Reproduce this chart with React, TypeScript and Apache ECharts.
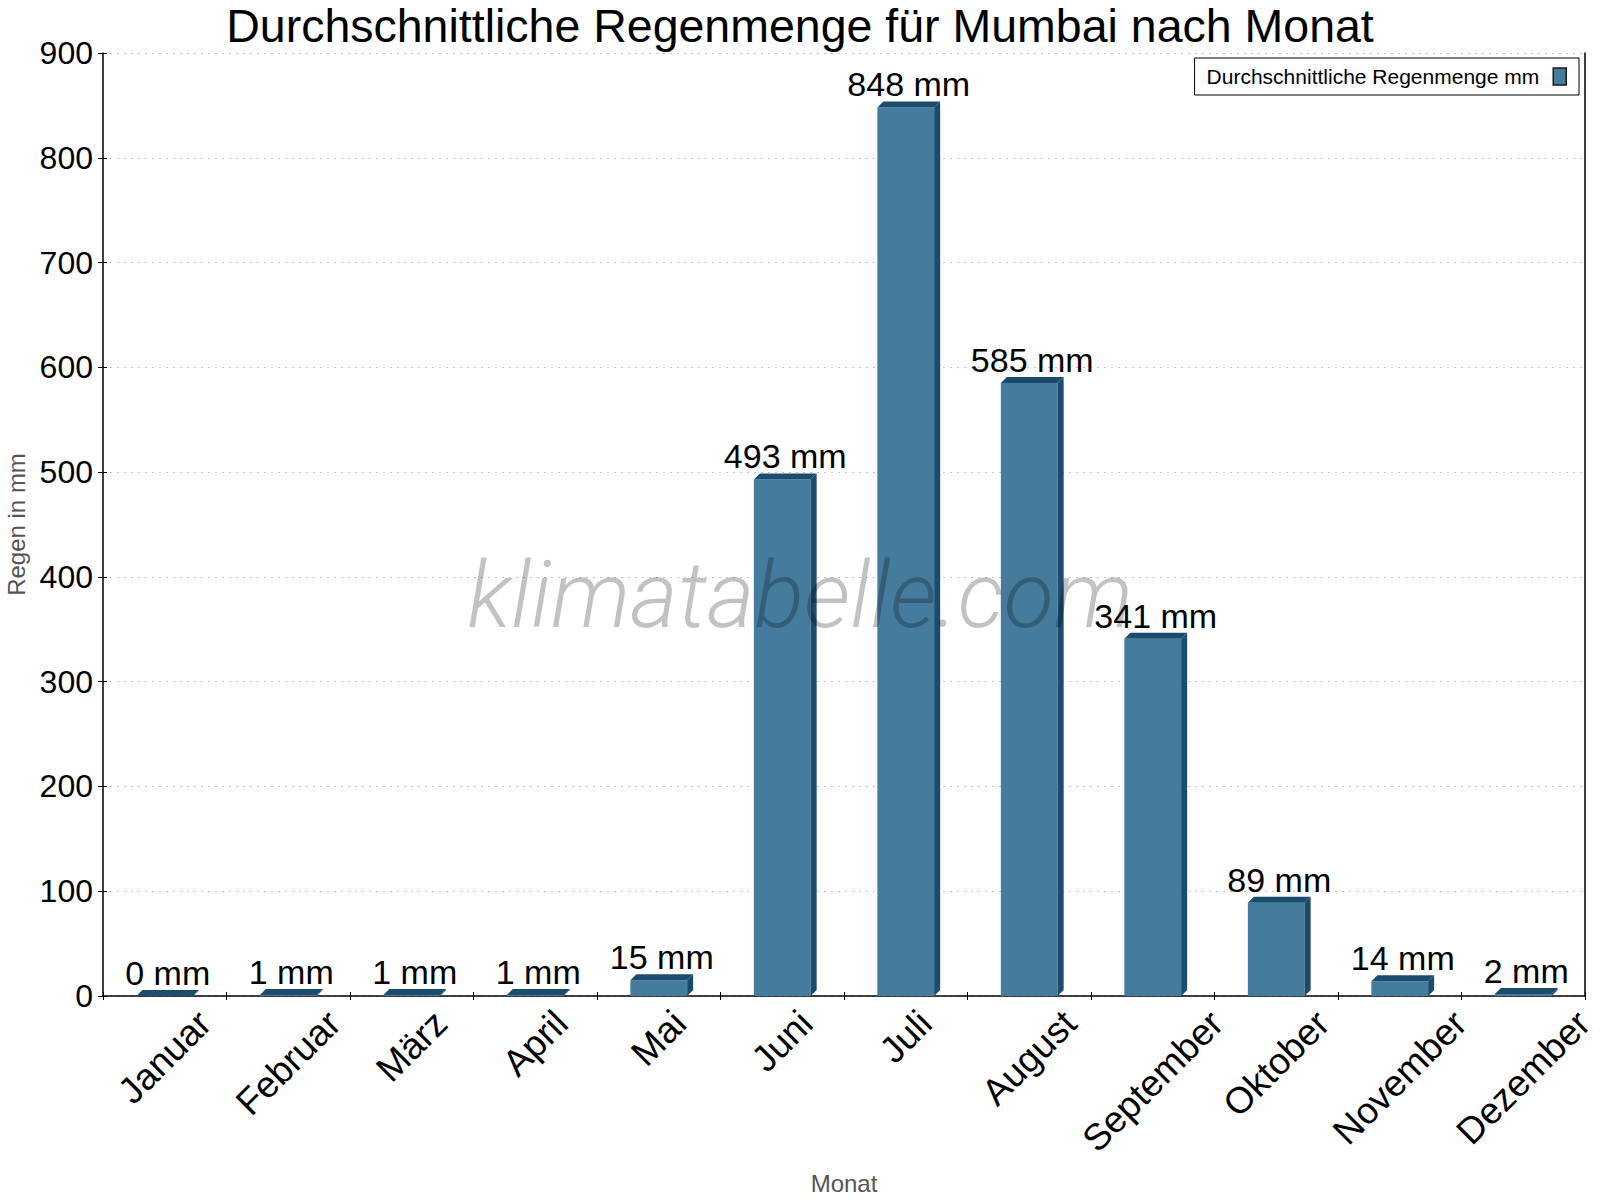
import { useEffect, useRef } from 'react'
import * as echarts from 'echarts'

// Monthly rainfall, Mumbai (klimatabelle.com)
const months = ['Januar', 'Februar', 'März', 'April', 'Mai', 'Juni', 'Juli', 'August', 'September', 'Oktober', 'November', 'Dezember']
const rainMm = [0, 1, 1, 1, 15, 493, 848, 585, 341, 89, 14, 2]
const yTicks = { min: 0, max: 900, interval: 100 }

const SERIES_NAME = 'Durchschnittliche Regenmenge mm'
const FRONT = '#457B9D'
const DARK = '#1B4C6D'
const DEPTH = 6
const BAR_RATIO = 0.46
const FONT = '"Liberation Sans", Arial, sans-serif'
const X_LABEL_SIZE = 37

// rotated month labels sit centred under their bar, top of their bounding box just below the axis
const buildMonthRich = () => {
  const ctx = document.createElement('canvas').getContext('2d')
  const rich: Record<string, any> = {}
  months.forEach((m, i) => {
    let w = m.length * X_LABEL_SIZE * 0.55
    if (ctx) {
      ctx.font = `${X_LABEL_SIZE}px "Liberation Sans", Arial, sans-serif`
      w = ctx.measureText(m).width
    }
    const d = 9 + (w + X_LABEL_SIZE * 0.93) / (2 * Math.SQRT2)
    const pad = Math.SQRT2 * d
    rich[`m${i}`] = {
      fontFamily: FONT,
      fontSize: X_LABEL_SIZE,
      color: '#000',
      padding: [pad, pad, 0, 0],
    }
  })
  return rich
}

const App: React.FC = () => {
  const chartRef = useRef<HTMLDivElement | null>(null)

  useEffect(() => {
    if (!chartRef.current) return
    document.body.style.margin = '0'
    const chart = echarts.init(chartRef.current, null, { renderer: 'svg' })

    const option: any = {
      animation: false,
      backgroundColor: '#ffffff',
      textStyle: { fontFamily: FONT },
      title: {
        text: 'Durchschnittliche Regenmenge für Mumbai nach Monat',
        left: 'center',
        top: 2,
        padding: 0,
        textStyle: { fontFamily: FONT, fontSize: 46.5, fontWeight: 'normal', color: '#000' },
      },
      legend: {
        right: 21,
        top: 58,
        align: 'right',
        padding: [8, 12, 8, 12],
        backgroundColor: '#fff',
        borderColor: '#000',
        borderWidth: 1,
        borderRadius: 0,
        itemWidth: 13,
        itemHeight: 17,
        textStyle: { fontFamily: FONT, fontSize: 21, color: '#000', padding: [0, 9, 0, 0] },
        data: [{ name: SERIES_NAME, icon: 'rect', itemStyle: { color: FRONT, borderColor: '#1a1a1a', borderWidth: 1.5 } }],
      },
      graphic: [
        {
          type: 'text',
          x: 800,
          y: 595,
          z: 100,
          silent: true,
          style: {
            text: 'klimatabelle.com',
            align: 'center',
            verticalAlign: 'middle',
            fontFamily: 'Roboto, "Open Sans", sans-serif',
            fontStyle: 'italic',
            fontWeight: 300,
            fontSize: 92,
            fill: 'rgba(0,0,0,0.24)',
          },
        },
      ],
      grid: { left: 103, right: 15, top: 53, bottom: 204, containLabel: false, outerBoundsMode: 'none' },
      xAxis: [
        {
          type: 'category',
          data: months,
          name: 'Monat',
          nameLocation: 'middle',
          nameGap: 175,
          nameTextStyle: { fontFamily: FONT, fontSize: 24, color: '#555' },
          axisLine: { lineStyle: { color: '#000', width: 1.5 } },
          axisTick: { show: true, length: 4, lineStyle: { color: '#000' } },
          axisLabel: {
            interval: 0,
            rotate: 45,
            align: 'center',
            verticalAlign: 'middle',
            margin: 0,
            formatter: (value: string, index: number) => `{m${index}|${value}}`,
            rich: buildMonthRich(),
          },
          splitLine: { show: false },
        },
        {
          type: 'category',
          data: months,
          position: 'bottom',
          axisLine: { show: false },
          axisTick: { show: true, inside: true, length: 4, lineStyle: { color: '#000' } },
          axisLabel: { show: false },
          splitLine: { show: false },
        },
      ],
      yAxis: [
        {
          type: 'value',
          min: yTicks.min,
          max: yTicks.max,
          interval: yTicks.interval,
          name: 'Regen in mm',
          nameLocation: 'middle',
          nameRotate: 90,
          nameGap: 72,
          nameTextStyle: { fontFamily: FONT, fontSize: 24, color: '#555' },
          axisLine: { show: true, lineStyle: { color: '#000', width: 1.5 } },
          axisTick: { show: true, length: 5, lineStyle: { color: '#000' } },
          axisLabel: { fontFamily: FONT, fontSize: 32, color: '#000', margin: 10 },
          splitLine: { show: true, lineStyle: { color: '#c4c4c4', type: [2, 5], width: 1 } },
        },
        {
          type: 'value',
          min: yTicks.min,
          max: yTicks.max,
          interval: yTicks.interval,
          position: 'left',
          axisLine: { show: false },
          axisTick: { show: true, inside: true, length: 4, lineStyle: { color: '#000' } },
          axisLabel: { show: false },
          splitLine: { show: false },
        },
        {
          type: 'value',
          min: yTicks.min,
          max: yTicks.max,
          interval: yTicks.interval,
          position: 'right',
          axisLine: { show: true, lineStyle: { color: '#000', width: 1.5 } },
          axisTick: { show: false },
          axisLabel: { show: false },
          splitLine: { show: false },
        },
      ],
      series: [
        {
          name: SERIES_NAME,
          type: 'custom',
          xAxisIndex: 0,
          yAxisIndex: 0,
          encode: { x: 0, y: 1 },
          data: rainMm.map((v, i) => [i, v]),
          itemStyle: { color: FRONT },
          renderItem: (_params: any, api: any) => {
            const idx = api.value(0)
            const v = api.value(1)
            const top = api.coord([idx, v])
            const base = api.coord([idx, 0])
            const band = api.size([1, 0])[0]
            const w = band * BAR_RATIO
            const x0 = top[0] - w / 2
            const x1 = top[0] + w / 2
            const yT = top[1]
            const yB = base[1]
            return {
              type: 'group',
              children: [
                { type: 'rect', shape: { x: x0, y: yT, width: w, height: yB - yT }, style: { fill: FRONT } },
                {
                  type: 'polygon',
                  shape: { points: [[x0, yT], [x1, yT], [x1 + DEPTH, yT - DEPTH], [x0 + DEPTH, yT - DEPTH]] },
                  style: { fill: DARK },
                },
                {
                  type: 'polygon',
                  shape: { points: [[x1, yT], [x1 + DEPTH, yT - DEPTH], [x1 + DEPTH, yB - DEPTH], [x1, yB]] },
                  style: { fill: DARK },
                },
                {
                  type: 'text',
                  x: top[0] + DEPTH / 2,
                  y: yT - DEPTH,
                  style: {
                    text: `${v} mm`,
                    align: 'center',
                    verticalAlign: 'bottom',
                    fontFamily: FONT,
                    fontSize: 34,
                    fill: '#000',
                  },
                },
              ],
            }
          },
        },
      ],
    }

    chart.setOption(option)

    return () => {
      chart.dispose()
    }
  }, [])

  return <div ref={chartRef} style={{ width: 1600, height: 1200 }} />
}

export default App
